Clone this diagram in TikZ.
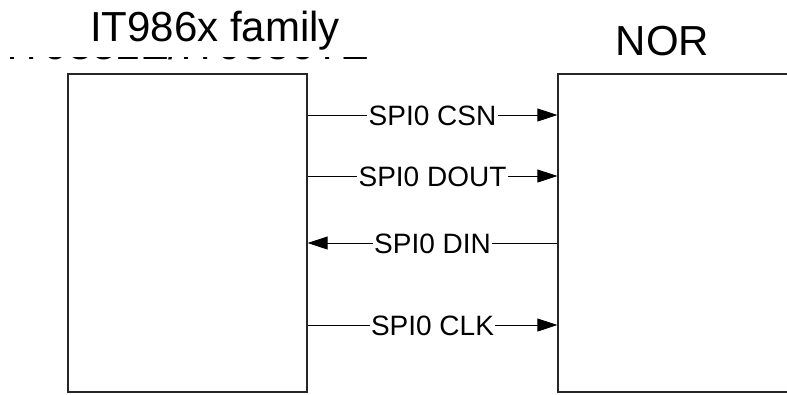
\documentclass[tikz,border=0pt]{standalone}
\usepackage{fontspec}
\setmainfont{Liberation Sans}
\usetikzlibrary{arrows.meta}
\begin{document}
\begin{tikzpicture}[x=1pt,y=-1pt,
  blockbox/.style={draw=black!85, line width=1.3pt, inner sep=0pt},
  bigtext/.style={font=\fontsize{42}{50}\selectfont, inner sep=0pt},
  sig/.style={line width=0.9pt, -{Triangle[length=20pt,width=13pt]}},
  siglabel/.style={font=\fontsize{28}{34}\selectfont, fill=white, inner xsep=1.5pt, inner ysep=1pt, anchor=base}]
\useasboundingbox (0,0) rectangle (787,394);
\clip (0,0) rectangle (787,394);
% partially hidden older caption
\node[font=\fontsize{43}{50}\selectfont, inner sep=0pt, anchor=base west] (ghost) at (6,59.5) {IT9852E/IT9856TE};
\fill[white] (0,0) rectangle (400,56.5);
% captions
\node[bigtext, anchor=base] (title) at (215,41) {IT986x family};
\node[bigtext, anchor=base] (nortitle) at (662.5,55) {NOR};
% blocks
\node[blockbox, minimum width=239pt, minimum height=318pt] (soc) at (187.5,233) {};
\node[blockbox, minimum width=250pt, minimum height=318pt] (nor) at (683,233) {};
% signals
\draw[sig] (soc.east |- 0,115) -- (nor.west |- 0,115);
\node[siglabel] (csn) at (432.5,125) {SPI0 CSN};
\draw[sig] (soc.east |- 0,176) -- (nor.west |- 0,176);
\node[siglabel] (dout) at (432.5,186) {SPI0 DOUT};
\draw[sig] (nor.west |- 0,243) -- (soc.east |- 0,243);
\node[siglabel] (din) at (432.5,253) {SPI0 DIN};
\draw[sig] (soc.east |- 0,325) -- (nor.west |- 0,325);
\node[siglabel] (clk) at (432.5,335) {SPI0 CLK};
\end{tikzpicture}
\end{document}
